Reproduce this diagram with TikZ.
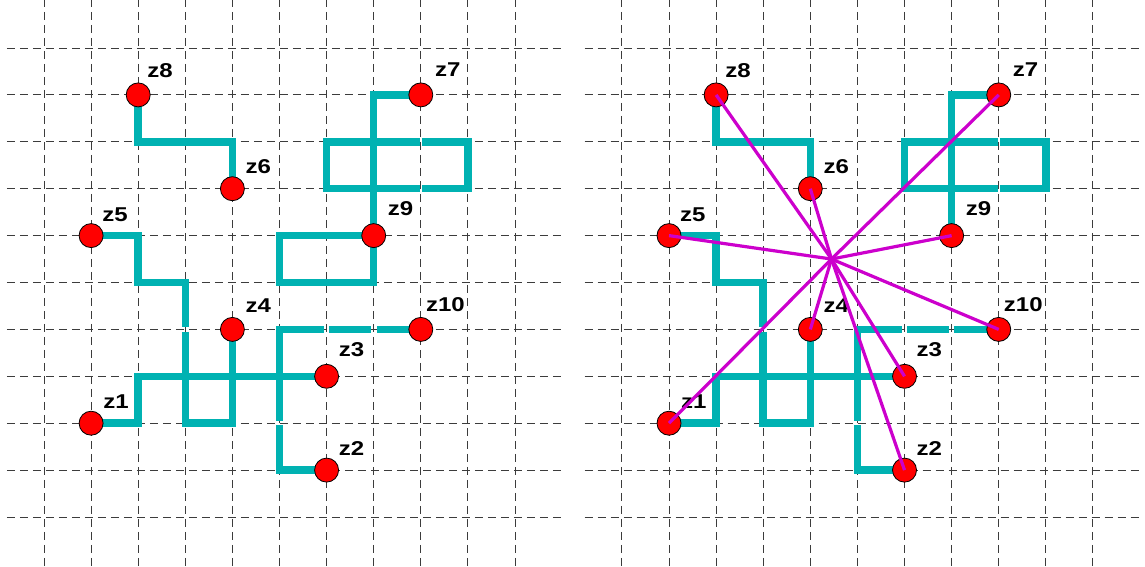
\documentclass[tikz,border=0pt]{standalone}
\usepackage{fontspec}
\usepackage{graphicx}
\setmainfont{Liberation Sans}
\definecolor{walkc}{RGB}{0,178,178}
\definecolor{rayc}{RGB}{204,0,204}
\definecolor{gridc}{RGB}{60,60,60}
\newcommand\lbltext[1]{\scalebox{1.2}[1]{#1}}
\begin{document}
\begin{tikzpicture}[x=47.1pt,y=-46.9pt,
  gridline/.style={draw=gridc, line width=1pt, dash pattern=on 8pt off 5pt},
  walk/.style={draw=walkc, line width=7.5pt, line cap=butt, line join=miter},
  ray/.style={draw=rayc, line width=3.2pt},
  dot/.style={circle, fill=red, draw=black, line width=0.8pt, minimum size=24pt, inner sep=0pt},
  lab/.style={font=\bfseries\fontsize{20}{20}\selectfont, inner sep=0pt, anchor=base west}]
\useasboundingbox (-0.9342,-1.0235) rectangle (23.3758,11.0448);
% grids
\foreach \ox in {0,12.27}{
  \foreach \i in {0,...,10} \draw[gridline] (\ox+\i,-1.05) -- (\ox+\i,11.1);
  \foreach \j in {0,...,10} \draw[gridline] (\ox-0.79,\j) -- (\ox+11.06,\j);
}
% walks
\foreach \ox in {0,12.27}{
\begin{scope}[shift={(\ox,0)}]
  \draw[walk] (2,1) -- (2,2) -- (4,2) -- (4,3);
  \draw[walk] (8,1) -- (7,1) -- (7,4);
  \draw[walk] (7.975,2) -- (6,2) -- (6,3) -- (7.975,3);
  \draw[walk] (8.025,2) -- (9,2) -- (9,3) -- (8.025,3);
  \draw[walk] (1,4) -- (2,4) -- (2,5) -- (3,5) -- (3,5.95);
  \draw[walk] (3,6.05) -- (3,8) -- (4,8) -- (4,6);
  \draw[walk] (1,8) -- (2,8) -- (2,7) -- (6,7);
  \draw[walk] (8,6) -- (7.06,6);
  \draw[walk] (6.94,6) -- (6.06,6);
  \draw[walk] (5.94,6) -- (5,6) -- (5,7.96);
  \draw[walk] (5,8.04) -- (5,9) -- (6,9);
\end{scope}
}
% loop next to z9, left panel only
\draw[walk] (7,4) -- (5,4) -- (5,5) -- (7,5) -- cycle;
% dots and labels
\foreach \p/\ox in {L/0,R/12.27}{
  \foreach \n/\c/\r/\dx/\dy in {1/1/8/12/15, 2/6/9/12/15, 3/6/7/12/20, 4/4/6/13/17, 5/1/4/11/14,
                                6/4/3/13/15, 7/8/1/14/18, 8/2/1/9/17, 9/7/4/14/20, 10/8/6/5/18}{
    \node[dot] (\p\n) at (\ox+\c,\r) {};
    \node[lab] (\p l\n) at ([shift={(\dx pt,\dy pt)}]\p\n.center) {\lbltext{z\n}};
  }
}
% star rays
\coordinate (Rc) at (16.72,4.5);
\foreach \n in {1,...,10} \draw[ray] (Rc) -- (R\n.center);
\end{tikzpicture}
\end{document}
